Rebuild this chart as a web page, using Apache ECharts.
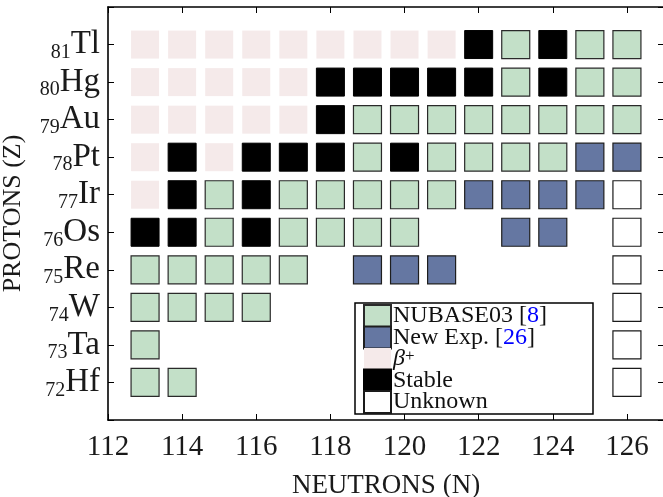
<!DOCTYPE html>
<html>
<head>
<meta charset="utf-8">
<script src="https://cdn.jsdelivr.net/npm/echarts@6/dist/echarts.min.js"></script>
<style>
  html, body { margin: 0; padding: 0; background: #fff; }
  #chart { width: 663px; height: 497px; }
</style>
</head>
<body>
<div id="chart"></div>
<script>
// Neutron numbers (columns) and proton numbers (rows) of the nuclide chart
const neutrons = [113, 114, 115, 116, 117, 118, 119, 120, 121, 122, 123, 124, 125, 126];
const protons = [72, 73, 74, 75, 76, 77, 78, 79, 80, 81];
const elements = ['Hf', 'Ta', 'W', 'Re', 'Os', 'Ir', 'Pt', 'Au', 'Hg', 'Tl'];
const xTicks = [112, 114, 116, 118, 120, 122, 124, 126];

// Status of each nuclide, one character per neutron number (113..126):
// N = NUBASE03, E = new experiment, B = beta+, S = stable, U = unknown, . = none
const status = {
  81: 'BBBBBBBBBSNSNN',
  80: 'BBBBBSSSSSNSNN',
  79: 'BBBBBSNNNNNNNN',
  78: 'BSBSSSNSNNNNEE',
  77: 'BSNSNNNNNEEEEU',
  76: 'SSNSNNNN..EE.U',
  75: 'NNNNN.EEE....U',
  74: 'NNNN.........U',
  73: 'N............U',
  72: 'NN...........U'
};

const categories = [
  { code: 'N', name: 'NUBASE03', color: '#c3e0c8', border: '#2a2a2a', bw: 1.2 },
  { code: 'E', name: 'New Exp.', color: '#6577a2', border: '#1e1e1e', bw: 1.2 },
  { code: 'B', name: 'β+', color: '#f5eaea', border: '#f5eaea', bw: 0 },
  { code: 'S', name: 'Stable', color: '#000000', border: '#000000', bw: 1 },
  { code: 'U', name: 'Unknown', color: '#ffffff', border: '#1a1a1a', bw: 1.2 }
];

function pointsFor(code) {
  const pts = [];
  protons.forEach(function (z) {
    const row = status[z];
    neutrons.forEach(function (n, i) {
      if (row[i] === code) pts.push([n, z]);
    });
  });
  return pts;
}

const FONT = '"Liberation Serif", "DejaVu Serif", serif';

const series = categories.map(function (c) {
  return {
    name: c.name,
    type: 'scatter',
    symbol: 'rect',
    symbolSize: [28, 28],
    itemStyle: { color: c.color, borderColor: c.border, borderWidth: c.bw, opacity: 1 },
    emphasis: { disabled: true },
    data: pointsFor(c.code),
    z: 3
  };
});

const legendText = {
  'NUBASE03': 'NUBASE03 [{r|8}]',
  'New Exp.': 'New Exp. [{r|26}]',
  'β+': '{g|β}{p|+}',
  'Stable': 'Stable',
  'Unknown': 'Unknown'
};

const spine = { lineStyle: { color: '#000', width: 1.6 } };
const tick = { show: true, inside: true, length: 6, lineStyle: { color: '#000', width: 1 } };

const chart = echarts.init(document.getElementById('chart'), null, { renderer: 'canvas' });
chart.setOption({
  animation: false,
  backgroundColor: '#ffffff',
  textStyle: { fontFamily: FONT },
  grid: { left: 108, right: -1, top: 7, bottom: 77, containLabel: false, outerBoundsMode: 'none' },
  xAxis: [
    {
      type: 'value', position: 'bottom', min: 112, max: 127, interval: 2,
      axisLine: spine, axisTick: tick, splitLine: { show: false },
      axisLabel: {
        margin: 13, fontSize: 29, color: '#1a1a1a', fontFamily: FONT,
        formatter: function (v) { return xTicks.indexOf(v) >= 0 ? String(v) : ''; }
      },
      name: 'NEUTRONS (N)', nameLocation: 'middle', nameGap: 52, nameMoveOverlap: false,
      nameTextStyle: { fontSize: 27, color: '#1a1a1a', fontFamily: FONT }
    },
    {
      type: 'value', position: 'top', min: 112, max: 127, interval: 2,
      axisLine: spine, axisTick: tick, axisLabel: { show: false }, splitLine: { show: false }
    }
  ],
  yAxis: [
    {
      type: 'value', position: 'left', min: 71, max: 82, interval: 1,
      axisLine: spine, axisTick: tick, splitLine: { show: false },
      axisLabel: {
        margin: 8, color: '#1a1a1a', fontFamily: FONT,
        formatter: function (v) {
          const i = protons.indexOf(v);
          return i >= 0 ? '{s|' + v + '}{e|' + elements[i] + '}' : '';
        },
        rich: {
          s: { fontSize: 20, fontFamily: FONT, color: '#1a1a1a', verticalAlign: 'bottom', lineHeight: 20 },
          e: { fontSize: 33, fontFamily: FONT, color: '#1a1a1a', lineHeight: 36 }
        }
      },
      name: 'PROTONS (Z)', nameLocation: 'middle', nameGap: 82, nameMoveOverlap: false,
      nameTextStyle: { fontSize: 26, color: '#1a1a1a', fontFamily: FONT }
    },
    {
      type: 'value', position: 'right', min: 71, max: 82, interval: 1,
      axisLine: spine, axisTick: tick, axisLabel: { show: false }, splitLine: { show: false }
    }
  ],
  legend: {
    show: true,
    orient: 'vertical',
    left: 355, top: 303,
    itemGap: -2.5, itemWidth: 27, itemHeight: 22,
    icon: 'rect',
    padding: [1, 46, 0, 8],
    borderColor: '#000', borderWidth: 1.5,
    backgroundColor: '#fff',
    selectedMode: false,
    data: categories.map(function (c) { return c.name; }),
    formatter: function (name) { return legendText[name]; },
    textStyle: {
      fontSize: 24, fontFamily: FONT, color: '#111', lineHeight: 22, padding: [0, 0, 0, -3],
      rich: {
        r: { fontSize: 24, fontFamily: FONT, color: '#0000ff', lineHeight: 22 },
        g: { fontSize: 24, fontFamily: FONT, fontStyle: 'italic', color: '#111', lineHeight: 22 },
        p: { fontSize: 17, fontFamily: FONT, color: '#111', verticalAlign: 'top', lineHeight: 12 }
      }
    },
    z: 10
  },
  series: series
});
</script>
</body>
</html>
